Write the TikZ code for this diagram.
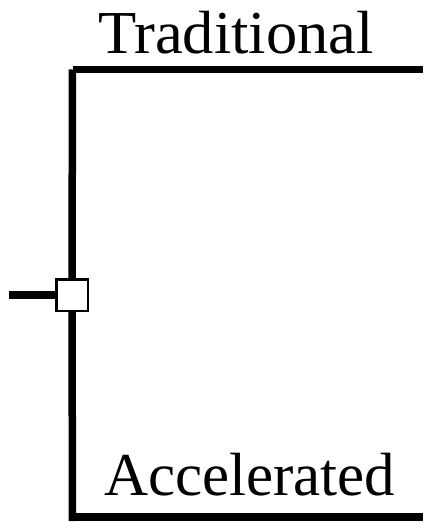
\documentclass[tikz,border=0pt]{standalone}
\usepackage{fontspec}
\setmainfont{Liberation Serif}
\begin{document}
\begin{tikzpicture}[x=1pt,y=-1pt,
  wire/.style={line width=7.5pt,line cap=butt},
  junction/.style={draw=black,fill=white,line width=2.5pt,minimum size=31.5pt,inner sep=0pt},
  label/.style={inner sep=0pt,anchor=base west,font=\fontsize{61}{61}\selectfont}]
  \useasboundingbox (0,0) rectangle (423,522);
  % split point and its incoming stub
  \node[junction] (j) at (72,295) {};
  \coordinate (in) at (9,295);
  \draw[wire] (in) -- (j.west);
  % trunk up and down from the split point
  \coordinate (top) at (72.5,69.5);
  \coordinate (bot) at (72.5,521);
  \draw[wire] (j.north) -- (top);
  \draw[wire] (j.south) -- (bot);
  % the two branches
  \coordinate (topend) at (423,69.5);
  \coordinate (botstart) at (72.5,517);
  \coordinate (botend) at (423,517);
  \draw[wire] (top) -- (topend);
  \draw[wire] (botstart) -- (botend);
  % branch labels
  \node[label,xscale=1.025] (trad) at (98,53) {Traditional};
  \node[label] (acc) at (104,495) {Accelerated};
\end{tikzpicture}
\end{document}
